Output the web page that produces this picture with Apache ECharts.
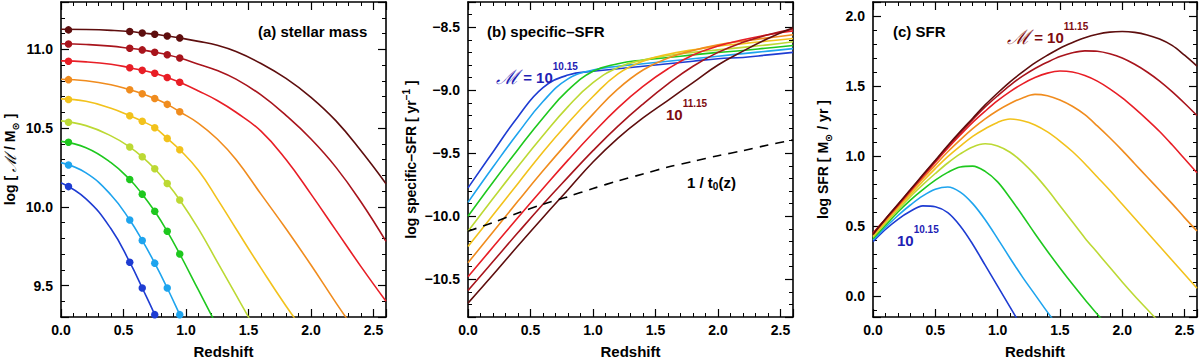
<!DOCTYPE html>
<html><head><meta charset="utf-8">
<script src="https://cdn.jsdelivr.net/npm/echarts@6/dist/echarts.min.js"></script>
<style>html,body{margin:0;padding:0;background:#fff}#c{width:1200px;height:364px}</style>
</head><body><div id="c"></div>
<script>
// ---------- DATA ----------
const massLabels = ["10.15","10.275","10.40","10.525","10.65","10.775","10.90","11.025","11.15"];
// (a) stellar mass tracks
const zA = [0, 0.2, 0.4, 0.55, 0.65, 0.75, 0.85, 0.95, 1.1, 1.25, 1.4, 1.6, 1.8, 2.0, 2.2, 2.4, 2.6];
const aBlue      = [10.152, 10.05, 9.86, 9.648, 9.484, 9.315, 9.13];
const aLightBlue = [10.28, 10.215, 10.075, 9.916, 9.786, 9.642, 9.484, 9.315, 9.06];
const aGreen     = [10.415, 10.375, 10.28, 10.173, 10.080, 9.971, 9.844, 9.700, 9.47, 9.24];
const aYellowGrn = [10.545, 10.515, 10.45, 10.379, 10.317, 10.241, 10.148, 10.043, 9.86, 9.65, 9.44, 9.16];
const aYellow    = [10.685, 10.67, 10.625, 10.578, 10.543, 10.502, 10.434, 10.362, 10.23, 10.05, 9.86, 9.61, 9.37, 9.15];
const aOrange    = [10.81, 10.80, 10.775, 10.743, 10.718, 10.687, 10.650, 10.603, 10.53, 10.43, 10.30, 10.08, 9.86, 9.63, 9.39, 9.16];
const aRed       = [10.926, 10.92, 10.905, 10.883, 10.866, 10.848, 10.821, 10.790, 10.735, 10.675, 10.60, 10.48, 10.30, 10.08, 9.85, 9.62, 9.40];
const aDarkRed   = [11.035, 11.03, 11.02, 11.006, 10.996, 10.981, 10.965, 10.944, 10.905, 10.865, 10.81, 10.71, 10.58, 10.43, 10.25, 10.03, 9.78];
const aMaroon    = [11.127, 11.125, 11.12, 11.113, 11.103, 11.095, 11.084, 11.072, 11.05, 11.025, 10.985, 10.91, 10.815, 10.695, 10.545, 10.355, 10.146];
// (a) observed points
const zDots = [0.06, 0.55, 0.65, 0.75, 0.85, 0.95];
const dBlue      = [10.128, 9.648, 9.484, 9.315];
const dLightBlue = [10.265, 9.916, 9.786, 9.642, 9.484, 9.315];
const dGreen     = [10.409, 10.173, 10.080, 9.971, 9.844, 9.700];
const dYellowGrn = [10.537, 10.379, 10.317, 10.241, 10.148, 10.043];
const dYellow    = [10.681, 10.578, 10.543, 10.502, 10.434, 10.362];
const dOrange    = [10.807, 10.743, 10.718, 10.687, 10.650, 10.603];
const dRed       = [10.924, 10.883, 10.866, 10.848, 10.821, 10.790];
const dDarkRed   = [11.033, 11.006, 10.996, 10.981, 10.965, 10.944];
const dMaroon    = [11.123, 11.113, 11.103, 11.095, 11.084, 11.072];
// (b) specific SFR
const zB = [0, 0.2, 0.4, 0.6, 0.8, 1.0, 1.2, 1.4, 1.6, 1.8, 2.0, 2.2, 2.4, 2.6];
const bBlue      = [-9.775, -9.49, -9.21, -8.98, -8.88, -8.85, -8.83, -8.81, -8.79, -8.77, -8.75, -8.74, -8.72, -8.70];
const bLightBlue = [-9.89, -9.61, -9.34, -9.09, -8.91, -8.84, -8.81, -8.79, -8.77, -8.75, -8.73, -8.71, -8.69, -8.67];
const bGreen     = [-10.00, -9.73, -9.47, -9.22, -9.00, -8.85, -8.79, -8.76, -8.74, -8.72, -8.70, -8.685, -8.665, -8.645];
const bYellowGrn = [-10.12, -9.86, -9.605, -9.36, -9.13, -8.94, -8.82, -8.76, -8.725, -8.70, -8.68, -8.66, -8.64, -8.615];
const bYellow    = [-10.24, -9.99, -9.74, -9.49, -9.26, -9.05, -8.87, -8.77, -8.715, -8.68, -8.65, -8.63, -8.61, -8.59];
const bOrange    = [-10.37, -10.125, -9.88, -9.64, -9.41, -9.19, -8.99, -8.84, -8.745, -8.685, -8.64, -8.61, -8.585, -8.56];
const bRed       = [-10.48, -10.245, -10.01, -9.78, -9.555, -9.34, -9.14, -8.97, -8.83, -8.72, -8.65, -8.60, -8.56, -8.53];
const bDarkRed   = [-10.59, -10.36, -10.13, -9.905, -9.69, -9.48, -9.285, -9.11, -8.95, -8.81, -8.70, -8.62, -8.56, -8.515];
const bMaroon    = [-10.69, -10.465, -10.235, -10.01, -9.79, -9.57, -9.38, -9.22, -9.08, -8.94, -8.80, -8.69, -8.59, -8.505];
const bInvAge    = [-10.12, -10.05, -9.975, -9.905, -9.845, -9.78, -9.72, -9.665, -9.61, -9.565, -9.52, -9.48, -9.435, -9.395];
// (c) SFR
const zC = [0, 0.1, 0.2, 0.3, 0.4, 0.5, 0.6, 0.7, 0.8, 0.9, 1.0, 1.1, 1.2, 1.3, 1.4, 1.5, 1.6, 1.7, 1.8, 1.9, 2.0, 2.1, 2.2, 2.3, 2.4, 2.5, 2.6];
const cBlue      = [0.388, 0.475, 0.548, 0.605, 0.644, 0.638, 0.595, 0.50, 0.37, 0.22, 0.07, -0.08, -0.23];
const cLightBlue = [0.40, 0.49, 0.575, 0.65, 0.715, 0.762, 0.779, 0.742, 0.66, 0.545, 0.41, 0.27, 0.135, 0.01, -0.115, -0.235];
const cGreen     = [0.41, 0.505, 0.60, 0.685, 0.76, 0.828, 0.883, 0.922, 0.928, 0.89, 0.815, 0.70, 0.575, 0.445, 0.32, 0.20, 0.085, -0.025, -0.13, -0.235];
const cYellowGrn = [0.42, 0.52, 0.615, 0.71, 0.795, 0.875, 0.95, 1.015, 1.065, 1.087, 1.072, 1.027, 0.955, 0.865, 0.76, 0.645, 0.53, 0.415, 0.31, 0.205, 0.10, 0.0, -0.095, -0.19];
const cYellow    = [0.43, 0.53, 0.63, 0.725, 0.82, 0.91, 0.995, 1.07, 1.14, 1.195, 1.24, 1.264, 1.252, 1.222, 1.172, 1.107, 1.032, 0.945, 0.85, 0.755, 0.655, 0.555, 0.455, 0.355, 0.255, 0.155, 0.055];
const cOrange    = [0.44, 0.54, 0.64, 0.74, 0.84, 0.935, 1.03, 1.115, 1.195, 1.265, 1.325, 1.375, 1.415, 1.44, 1.43, 1.40, 1.355, 1.295, 1.215, 1.13, 1.04, 0.945, 0.85, 0.755, 0.66, 0.56, 0.464];
const cRed       = [0.45, 0.548, 0.647, 0.75, 0.853, 0.955, 1.055, 1.15, 1.24, 1.32, 1.395, 1.46, 1.515, 1.56, 1.592, 1.607, 1.60, 1.575, 1.535, 1.48, 1.415, 1.34, 1.26, 1.175, 1.08, 0.98, 0.88];
const cDarkRed   = [0.445, 0.55, 0.652, 0.757, 0.862, 0.965, 1.068, 1.165, 1.26, 1.35, 1.43, 1.505, 1.57, 1.625, 1.67, 1.71, 1.737, 1.751, 1.748, 1.73, 1.70, 1.655, 1.60, 1.535, 1.46, 1.377, 1.289];
const cMaroon    = [0.44, 0.55, 0.655, 0.76, 0.866, 0.97, 1.075, 1.175, 1.27, 1.365, 1.45, 1.53, 1.60, 1.665, 1.72, 1.77, 1.81, 1.845, 1.87, 1.885, 1.889, 1.883, 1.865, 1.835, 1.79, 1.72, 1.642];
const colors = ['#1e3cd2', '#1ea4ee', '#1ec81e', '#bcd934', '#f2c21c', '#f08c1e', '#e81e26', '#a8141c', '#5e0e0e'];

// ---------- CHART ----------
const FONT = 'Liberation Sans, Arial, Helvetica, sans-serif';
const tracksA = [aBlue, aLightBlue, aGreen, aYellowGrn, aYellow, aOrange, aRed, aDarkRed, aMaroon];
const dotsA = [dBlue, dLightBlue, dGreen, dYellowGrn, dYellow, dOrange, dRed, dDarkRed, dMaroon];
const tracksB = [bBlue, bLightBlue, bGreen, bYellowGrn, bYellow, bOrange, bRed, bDarkRed, bMaroon];
const tracksC = [cBlue, cLightBlue, cGreen, cYellowGrn, cYellow, cOrange, cRed, cDarkRed, cMaroon];
const pairs = (xs, ys) => ys.map((y, i) => [xs[i], y]);
const isMajor = v => Math.abs(v * 2 - Math.round(v * 2)) < 1e-6;
const fmt = v => isMajor(v) ? (v < 0 ? '\u2212' + Math.abs(v).toFixed(1) : v.toFixed(1)) : '';

const grids = [
  {left: 61, top: 2, width: 325, height: 325},
  {left: 468, top: 2, width: 325, height: 325},
  {left: 873, top: 2, width: 325, height: 325}
];
const yRanges = [[9.3, 11.3], [-10.8, -8.3], [-0.15, 2.1]];
const tRich = {fontFamily: FONT, fontWeight: 'bold', fontSize: 14, lineHeight: 20, color: '#000'};
const yNames = [
  {text: '{t|log [ }{m|\u2133}{t| / M}{s|\u2299}{t| ]}', gap: 41},
  {text: '{t|log specific\u2013SFR [ yr}{p|\u22121}{t| ]}', gap: 47},
  {text: '{t|log SFR [ M}{s|\u2299}{t| / yr ]}', gap: 40}
];
const nameRich = {
  t: tRich,
  m: {fontFamily: 'DejaVu Serif', fontStyle: 'italic', fontSize: 16, lineHeight: 20, color: '#000'},
  s: {fontFamily: 'DejaVu Sans', fontWeight: 'bold', fontSize: 10, lineHeight: 12, verticalAlign: 'bottom', color: '#000'},
  p: {fontFamily: FONT, fontWeight: 'bold', fontSize: 10, lineHeight: 10, verticalAlign: 'top', color: '#000'}
};
const lineAxis = {show: true, onZero: false, lineStyle: {color: '#000', width: 1.6}};
const tick = {show: true, inside: true, length: 8, lineStyle: {color: '#000', width: 1.2}};
const minor = {show: true, splitNumber: 5, length: 4, lineStyle: {color: '#000', width: 1}};
const label = {show: true, formatter: fmt, color: '#000', fontFamily: FONT, fontWeight: 'bold', fontSize: 14};

const xAxis = [], yAxis = [];
grids.forEach((g, i) => {
  const xb = {type: 'value', gridIndex: i, min: 0, max: 2.6, minInterval: 0.5, maxInterval: 0.5,
    position: 'bottom', axisLine: lineAxis, axisTick: tick, minorTick: minor, splitLine: {show: false},
    axisLabel: Object.assign({}, label, {margin: 6}),
    name: 'Redshift', nameLocation: 'middle', nameGap: 27,
    nameTextStyle: {color: '#000', fontFamily: FONT, fontWeight: 'bold', fontSize: 15}};
  const xt = {type: 'value', gridIndex: i, min: 0, max: 2.6, minInterval: 0.5, maxInterval: 0.5,
    position: 'top', axisLine: lineAxis, axisTick: tick, minorTick: minor, splitLine: {show: false},
    axisLabel: {show: false}};
  xAxis.push(xb, xt);
  const [lo, hi] = yRanges[i];
  const yl = {type: 'value', gridIndex: i, min: lo, max: hi, minInterval: 0.5, maxInterval: 0.5,
    position: 'left', axisLine: lineAxis, axisTick: tick, minorTick: minor, splitLine: {show: false},
    axisLabel: Object.assign({}, label, {margin: 8}),
    name: yNames[i].text, nameLocation: 'middle', nameGap: yNames[i].gap, nameRotate: 90,
    nameTextStyle: {color: '#000', rich: nameRich}};
  const yr = {type: 'value', gridIndex: i, min: lo, max: hi, minInterval: 0.5, maxInterval: 0.5,
    position: 'right', axisLine: lineAxis, axisTick: tick, minorTick: minor, splitLine: {show: false},
    axisLabel: {show: false}};
  yAxis.push(yl, yr);
});

const series = [];
const lineBase = {type: 'line', showSymbol: false, symbol: 'none', smooth: 0.45,
  clip: true, silent: true, animation: false};
tracksA.forEach((ys, k) => series.push(Object.assign({}, lineBase, {
  name: 'M ' + massLabels[k], xAxisIndex: 0, yAxisIndex: 0, data: pairs(zA, ys),
  lineStyle: {color: colors[k], width: 1.6}, z: 2})));
dotsA.forEach((ys, k) => series.push({type: 'scatter', xAxisIndex: 0, yAxisIndex: 0,
  data: pairs(zDots, ys), symbolSize: 7.5, itemStyle: {color: colors[k], opacity: 1}, z: 3, animation: false, silent: true}));
tracksB.forEach((ys, k) => series.push(Object.assign({}, lineBase, {
  name: 'sSFR ' + massLabels[k], xAxisIndex: 2, yAxisIndex: 2, data: pairs(zB, ys),
  lineStyle: {color: colors[k], width: 1.6}, z: 2})));
series.push(Object.assign({}, lineBase, {name: '1/t0', xAxisIndex: 2, yAxisIndex: 2, smooth: 0.3,
  data: pairs(zB, bInvAge), lineStyle: {color: '#000', width: 1.6, type: [9, 7]}, z: 3}));
tracksC.forEach((ys, k) => series.push(Object.assign({}, lineBase, {
  name: 'SFR ' + massLabels[k], xAxisIndex: 4, yAxisIndex: 4, data: pairs(zC, ys), smooth: 0.35,
  lineStyle: {color: colors[k], width: 1.6}, z: 2})));

// in-panel text
const BLUE_TXT = '#1f22b4', RED_TXT = '#7e0c10';
function richLabel(x, y, text, fill) {
  return {type: 'text', x: x, y: y, z: 10, style: {text: text, fill: fill, align: 'left', verticalAlign: 'middle',
    rich: {
      b: {fontFamily: FONT, fontWeight: 'bold', fontSize: 15, lineHeight: 32, fill: fill},
      h: {fontFamily: FONT, fontWeight: 'bold', fontSize: 15, lineHeight: 18, fill: fill},
      m: {fontFamily: 'DejaVu Serif', fontStyle: 'italic', fontSize: 20, lineHeight: 32, fill: fill},
      s: {fontFamily: FONT, fontWeight: 'bold', fontSize: 10, lineHeight: 12, verticalAlign: 'top', fill: fill},
      d: {fontFamily: FONT, fontWeight: 'bold', fontSize: 10, lineHeight: 10, verticalAlign: 'bottom', fill: fill}
    }}};
}
const graphics = [
  richLabel(258, 31, '{h|(a) stellar mass}', '#000'),
  richLabel(487, 31, '{h|(b) specific\u2013SFR}', '#000'),
  richLabel(893, 31, '{h|(c) SFR}', '#000'),
  richLabel(496, 77, '{m|\u2133}{b| = 10}{s|10.15}', BLUE_TXT),
  richLabel(666, 114, '{b|10}{s|11.15}', RED_TXT),
  richLabel(687, 182, '{h|1 / t}{d|0}{h|(z)}', '#000'),
  richLabel(1007, 37, '{m|\u2133}{b| = 10}{s|11.15}', RED_TXT),
  richLabel(897, 240, '{b|10}{s|10.15}', BLUE_TXT)
];

const chart = echarts.init(document.getElementById('c'), null, {renderer: 'svg'});
chart.setOption({animation: false, backgroundColor: '#fff', grid: grids, xAxis: xAxis, yAxis: yAxis,
  series: series, graphic: graphics});
</script></body></html>
